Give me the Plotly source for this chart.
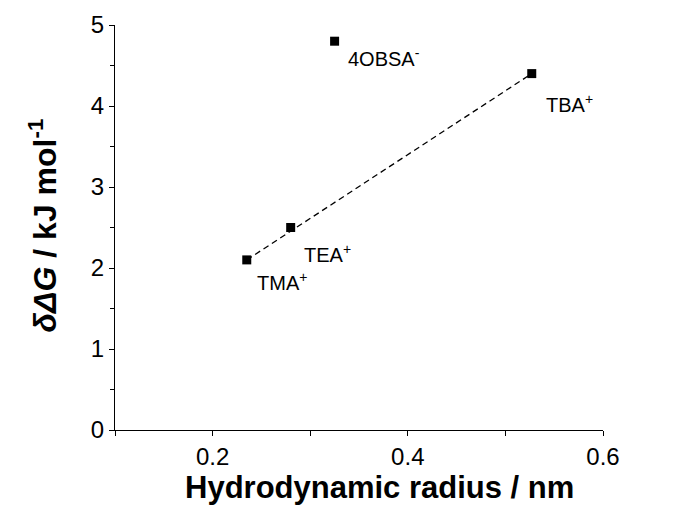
import plotly.graph_objects as go

# Data
ion_labels = ["TMA<sup>+</sup>", "TEA<sup>+</sup>", "4OBSA<sup>-</sup>", "TBA<sup>+</sup>"]
radius_nm = [0.235, 0.28, 0.325, 0.527]
ddg_kj = [2.1, 2.5, 4.8, 4.4]

x_title = "<b>Hydrodynamic radius / nm</b>"
y_title = "<b><i>δΔG</i> / kJ mol<sup>-1</sup></b>"

# Label placement offsets (pixels) relative to each marker
label_dx = [8, 11, 11, 12]
label_dy = [-22, -26, -16, -30]

# Dashed trend line through the cation points (TMA -> TBA)
fit_x = [radius_nm[0], radius_nm[3]]
fit_y = [ddg_kj[0], ddg_kj[3]]

font_family = "Liberation Sans, Arial, sans-serif"

fig = go.Figure()
fig.add_trace(go.Scatter(
    x=fit_x, y=fit_y, mode="lines",
    line=dict(color="black", width=1.3, dash="6px,4px"),
    hoverinfo="skip", showlegend=False,
))
fig.add_trace(go.Scatter(
    x=radius_nm, y=ddg_kj, mode="markers",
    marker=dict(symbol="square", size=9, color="black"),
    showlegend=False,
))

for xv, yv, lab, dx, dy in zip(radius_nm, ddg_kj, ion_labels, label_dx, label_dy):
    fig.add_annotation(
        x=xv, y=yv, text=lab, showarrow=False,
        xanchor="left", yanchor="middle", xshift=dx, yshift=dy,
        font=dict(family=font_family, size=20, color="black"),
    )

# Axis titles as annotations for exact placement
fig.add_annotation(
    text=x_title, xref="paper", yref="paper", x=0.543, y=0,
    xanchor="center", yanchor="middle", yshift=-57, showarrow=False,
    font=dict(family=font_family, size=31, color="black"),
)
fig.add_annotation(
    text=y_title, xref="paper", yref="paper", x=0, y=0.505,
    xanchor="center", yanchor="middle", xshift=-72, textangle=-90, showarrow=False,
    font=dict(family=font_family, size=32, color="black"),
)

fig.update_layout(
    width=676, height=505,
    margin=dict(l=107, r=81, t=17, b=83),
    paper_bgcolor="white", plot_bgcolor="white",
    font=dict(family=font_family, color="black"),
    xaxis=dict(
        range=[0.1, 0.6], tickvals=[0.2, 0.4, 0.6], ticktext=["0.2", "0.4", "0.6"],
        showgrid=False, zeroline=False, showline=True, linecolor="black", linewidth=1,
        ticks="outside", ticklen=5, tickcolor="black", tickwidth=1,
        minor=dict(tickvals=[0.1, 0.3, 0.5], ticks="outside", ticklen=5, tickcolor="black", tickwidth=1),
        tickfont=dict(size=24, family=font_family),
        automargin=False,
    ),
    yaxis=dict(
        range=[0, 5], tickvals=[0, 1, 2, 3, 4, 5],
        showgrid=False, zeroline=False, showline=True, linecolor="black", linewidth=1,
        ticks="outside", ticklen=5, tickcolor="black", tickwidth=1,
        minor=dict(tickvals=[0.5, 1.5, 2.5, 3.5, 4.5], ticks="outside", ticklen=4, tickcolor="black", tickwidth=1),
        tickfont=dict(size=24, family=font_family),
        automargin=False,
    ),
)

fig.write_html("out.html")
